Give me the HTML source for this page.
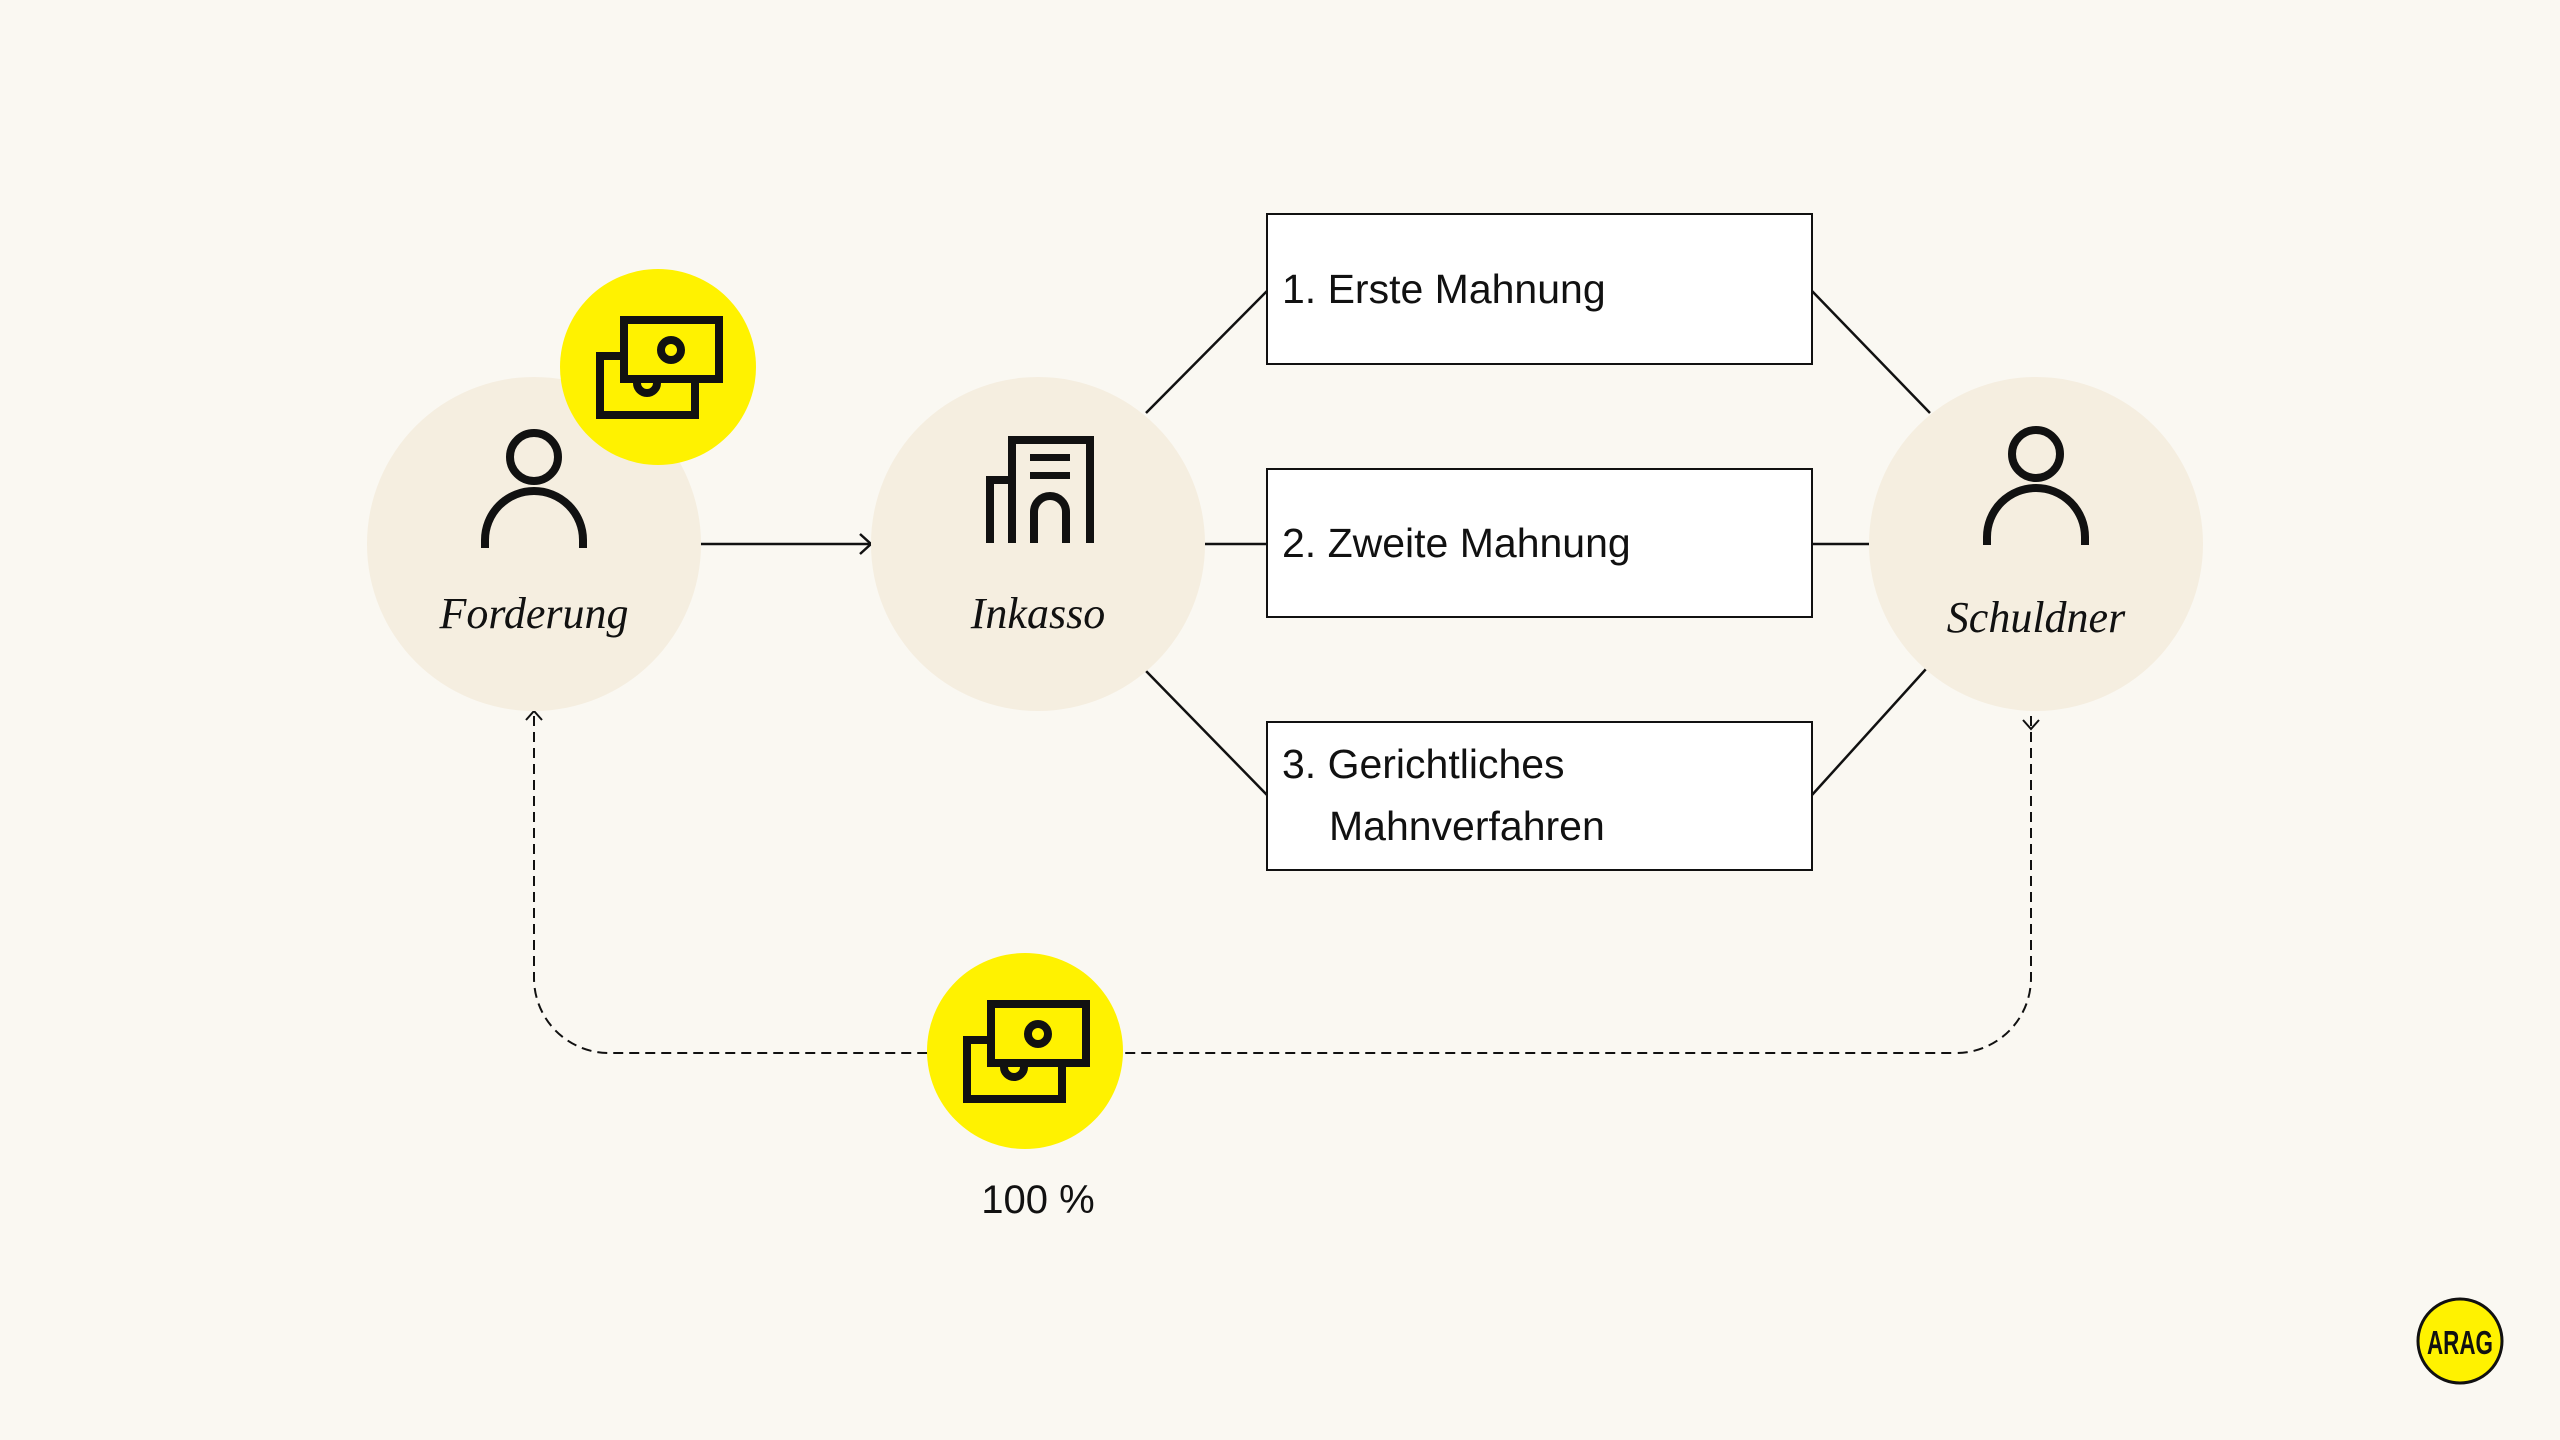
<!DOCTYPE html>
<html><head><meta charset="utf-8"><style>
html,body{margin:0;padding:0;background:#faf8f2;}
svg{display:block}
.lbl{font-family:"Liberation Serif",serif;font-style:italic;font-size:44px;fill:#111;}
.bx{font-family:"Liberation Sans",sans-serif;font-size:41px;fill:#111;}
</style></head><body>
<svg width="2560" height="1440" viewBox="0 0 2560 1440" xmlns="http://www.w3.org/2000/svg">
<rect width="2560" height="1440" fill="#faf8f2"/>
<g stroke="#111" stroke-width="2.5" fill="none">
<line x1="700" y1="544" x2="870" y2="544"/>
<polyline points="860,534 871,544 860,554"/>
<line x1="1146" y1="413" x2="1267" y2="291"/>
<line x1="1812" y1="291" x2="1930" y2="413"/>
<line x1="1205" y1="544" x2="1267" y2="544"/>
<line x1="1812" y1="544" x2="1869" y2="544"/>
<line x1="1146" y1="671" x2="1267" y2="795"/>
<line x1="1812" y1="795" x2="1926" y2="669"/>
</g>
<g stroke="#111" stroke-width="2" fill="none" stroke-dasharray="10,6">
<path d="M534 716 V978 A75 75 0 0 0 609 1053 H1956"/>
<path d="M2031 716 V978 A75 75 0 0 1 1956 1053"/>
</g>
<g stroke="#111" stroke-width="2" fill="none">
<polyline points="526,720 534,711 542,720"/>
<polyline points="2023,720 2031,729 2039,720"/>
</g>
<circle cx="534" cy="544" r="167" fill="#f5eee0"/>
<circle cx="1038" cy="544" r="167" fill="#f5eee0"/>
<circle cx="2036" cy="544" r="167" fill="#f5eee0"/>
<g fill="#fff" stroke="#111" stroke-width="2">
<rect x="1267" y="214" width="545" height="150"/>
<rect x="1267" y="469" width="545" height="148"/>
<rect x="1267" y="722" width="545" height="148"/>
</g>
<text class="bx" x="1282" y="303">1. Erste Mahnung</text>
<text class="bx" x="1282" y="557">2. Zweite Mahnung</text>
<text class="bx" x="1282" y="778">3. Gerichtliches</text>
<text class="bx" x="1329" y="840">Mahnverfahren</text>
<text class="lbl" x="534" y="628" text-anchor="middle">Forderung</text>
<text class="lbl" x="1038" y="628" text-anchor="middle">Inkasso</text>
<text class="lbl" x="2036" y="632" text-anchor="middle">Schuldner</text>
<g stroke="#111" stroke-width="8" fill="none">
<circle cx="534" cy="457" r="24"/>
<path d="M485 548 V540 A49 49 0 0 1 583 540 V548"/>
<circle cx="2036" cy="454" r="24"/>
<path d="M1987 545 V537 A49 49 0 0 1 2085 537 V545"/>
</g>
<g fill="#111">
<rect x="986" y="476" width="8" height="67"/>
<rect x="986" y="476" width="22" height="8"/>
<rect x="1008" y="476" width="8" height="67"/>
<rect x="1008" y="436" width="86" height="8"/>
<rect x="1008" y="436" width="8" height="107"/>
<rect x="1086" y="436" width="8" height="107"/>
<rect x="1030" y="454" width="40" height="7"/>
<rect x="1030" y="472" width="40" height="7"/>
</g>
<path d="M1034 543 V512 A16 16 0 0 1 1066 512 V543" stroke="#111" stroke-width="8" fill="none"/>
<g id="m1">
<circle cx="1025" cy="1051" r="98" fill="#fff200"/>
<g stroke="#111" stroke-width="8" fill="none">
<path d="M991 1040 H967 V1099 H1062 V1067"/>
<path d="M1004 1067 A10 10 0 0 0 1024 1067"/>
<rect x="991" y="1004" width="95" height="59" fill="#fff200"/>
<circle cx="1038" cy="1034" r="10"/>
</g>
</g>
<use href="#m1" transform="translate(-367,-684)"/>
<text x="1038" y="1213" text-anchor="middle" font-family="Liberation Sans,sans-serif" font-size="40" fill="#111">100 %</text>
<circle cx="2460" cy="1341" r="42" fill="#fff200" stroke="#111" stroke-width="3"/>
<text x="2460" y="1354" text-anchor="middle" font-family="Liberation Sans,sans-serif" font-weight="bold" font-size="33" fill="#111" textLength="66" lengthAdjust="spacingAndGlyphs">ARAG</text>
</svg>
</body></html>
